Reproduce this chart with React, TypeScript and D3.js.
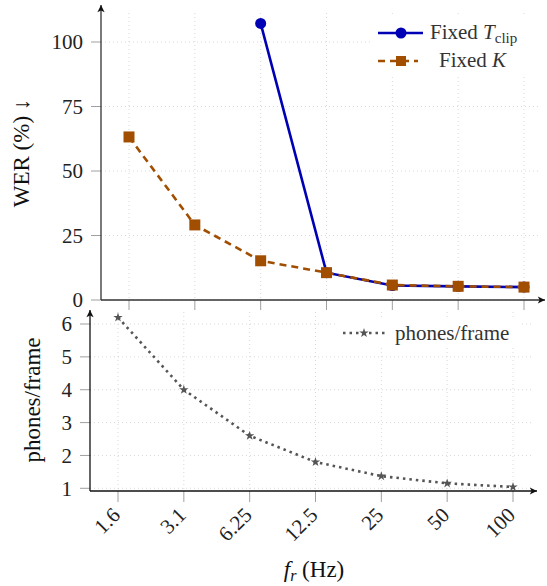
import React, { useEffect, useRef } from "react";
import * as d3 from "d3";

// sampling rates (Hz)
const rates = ["1.6", "3.1", "6.25", "12.5", "25", "50", "100"];
// WER (%) with fixed T_clip (null = not run)
const werFixedTclip = [null, null, 107.2, 10.6, 5.6, 5.3, 5.0];
// WER (%) with fixed K
const werFixedK = [63.2, 29.1, 15.2, 10.6, 5.8, 5.3, 5.0];
// phones per frame
const phonesPerFrame = [6.2, 4.0, 2.6, 1.8, 1.37, 1.15, 1.04];

const werTicks = [0, 25, 50, 75, 100];
const ppfTicks = [1, 2, 3, 4, 5, 6];

const FONT = "'Liberation Serif', 'DejaVu Serif', serif";
const BLUE = "#0000b4";
const ORANGE = "#a24e00";
const GRAY = "#555555";

export default function App() {
  const ref = useRef<SVGSVGElement>(null);

  useEffect(() => {
    const svg = d3.select(ref.current);
    svg.selectAll("*").remove();

    const defs = svg.append("defs");
    defs.append("marker")
      .attr("id", "arr")
      .attr("viewBox", "0 0 10 10")
      .attr("refX", 9).attr("refY", 5)
      .attr("markerWidth", 9).attr("markerHeight", 9)
      .attr("markerUnits", "userSpaceOnUse")
      .attr("orient", "auto")
      .append("path")
      .attr("d", "M1,1 L9,5 L1,9 L3,5 Z")
      .attr("fill", "#111");

    // ---------- top panel ----------
    const topX = d3.scalePoint().domain(rates).range([129, 524]);
    const topY = d3.scaleLinear().domain([0, 100]).range([300, 42]);
    const top = svg.append("g");
    const tLeft = 101, tRight = 545, tTop = 5, tBottom = 300;

    // grid
    top.selectAll(".vg").data(rates).join("line")
      .attr("x1", d => topX(d)!).attr("x2", d => topX(d)!)
      .attr("y1", tTop + 8).attr("y2", tBottom)
      .attr("stroke", "#cfcfcf").attr("stroke-width", 0.8).attr("stroke-dasharray", "1 3");
    top.selectAll(".hg").data(werTicks).join("line")
      .attr("x1", tLeft).attr("x2", tRight - 4)
      .attr("y1", d => topY(d)).attr("y2", d => topY(d))
      .attr("stroke", "#cfcfcf").attr("stroke-width", 0.8).attr("stroke-dasharray", "1 3");

    // ticks
    top.selectAll(".yt").data(werTicks).join("line")
      .attr("x1", tLeft - 10).attr("x2", tLeft)
      .attr("y1", d => topY(d)).attr("y2", d => topY(d))
      .attr("stroke", "#888").attr("stroke-width", 0.8);
    top.selectAll(".ytl").data(werTicks).join("text")
      .attr("x", tLeft - 18).attr("y", d => topY(d))
      .attr("dy", "0.35em").attr("text-anchor", "end")
      .attr("font-family", FONT).attr("font-size", 21).attr("fill", "#222")
      .text(d => d);
    top.selectAll(".xt").data(rates).join("line")
      .attr("x1", d => topX(d)!).attr("x2", d => topX(d)!)
      .attr("y1", tBottom).attr("y2", tBottom + 10)
      .attr("stroke", "#888").attr("stroke-width", 0.8);

    // axes
    top.append("line").attr("x1", tLeft).attr("x2", tLeft).attr("y1", tBottom).attr("y2", tTop)
      .attr("stroke", "#333").attr("stroke-width", 1.3).attr("marker-end", "url(#arr)");
    top.append("line").attr("x1", tLeft).attr("x2", tRight).attr("y1", tBottom).attr("y2", tBottom)
      .attr("stroke", "#333").attr("stroke-width", 1.3).attr("marker-end", "url(#arr)");

    const werLine = d3.line<number | null>()
      .defined(d => d !== null)
      .x((_, i) => topX(rates[i])!)
      .y(d => topY(d as number));

    top.append("path").attr("d", werLine(werFixedTclip))
      .attr("fill", "none").attr("stroke", BLUE).attr("stroke-width", 2.6);
    top.selectAll(".c").data(werFixedTclip.map((v, i) => ({ v, i })).filter(d => d.v !== null)).join("circle")
      .attr("cx", d => topX(rates[d.i])!).attr("cy", d => topY(d.v as number))
      .attr("r", 5.5).attr("fill", BLUE);

    top.append("path").attr("d", werLine(werFixedK))
      .attr("fill", "none").attr("stroke", ORANGE).attr("stroke-width", 2.6)
      .attr("stroke-dasharray", "7 5");
    top.selectAll(".s").data(werFixedK).join("rect")
      .attr("x", (_, i) => topX(rates[i])! - 5.5).attr("y", d => topY(d) - 5.5)
      .attr("width", 11).attr("height", 11).attr("fill", ORANGE);

    // y label
    top.append("text")
      .attr("transform", "translate(29,153) rotate(-90)")
      .attr("text-anchor", "middle")
      .attr("font-family", FONT).attr("font-size", 23).attr("fill", "#111")
      .text("WER (%) \u2193");

    // legend
    const lg = top.append("g");
    lg.append("rect").attr("x", 370).attr("y", 14).attr("width", 170).attr("height", 62).attr("fill", "white");
    lg.append("line").attr("x1", 378).attr("x2", 423).attr("y1", 33).attr("y2", 33)
      .attr("stroke", BLUE).attr("stroke-width", 2.6);
    lg.append("circle").attr("cx", 401).attr("cy", 33).attr("r", 5.5).attr("fill", BLUE);
    const t1 = lg.append("text").attr("x", 430).attr("y", 39)
      .attr("font-family", FONT).attr("font-size", 21).attr("fill", "#333");
    t1.append("tspan").text("Fixed ");
    t1.append("tspan").attr("font-style", "italic").text("T");
    t1.append("tspan").attr("font-size", 15).attr("dy", 4).text("clip");

    lg.append("line").attr("x1", 378).attr("x2", 418).attr("y1", 61).attr("y2", 61)
      .attr("stroke", ORANGE).attr("stroke-width", 2.6).attr("stroke-dasharray", "7 5");
    lg.append("rect").attr("x", 396).attr("y", 56).attr("width", 10).attr("height", 10).attr("fill", ORANGE);
    const t2 = lg.append("text").attr("x", 439).attr("y", 67)
      .attr("font-family", FONT).attr("font-size", 21).attr("fill", "#333");
    t2.append("tspan").text("Fixed ");
    t2.append("tspan").attr("font-style", "italic").text("K");

    // ---------- bottom panel ----------
    const botX = d3.scalePoint().domain(rates).range([118, 513]);
    const botY = d3.scaleLinear().domain([1, 6]).range([488.3, 324]);
    const bot = svg.append("g");
    const bLeft = 90, bRight = 537, bTop = 310, bBottom = 491;

    bot.selectAll(".vg").data(rates).join("line")
      .attr("x1", d => botX(d)!).attr("x2", d => botX(d)!)
      .attr("y1", bTop + 2).attr("y2", bBottom)
      .attr("stroke", "#cfcfcf").attr("stroke-width", 0.8).attr("stroke-dasharray", "1 3");
    bot.selectAll(".hg").data(ppfTicks).join("line")
      .attr("x1", bLeft).attr("x2", bRight - 4)
      .attr("y1", d => botY(d)).attr("y2", d => botY(d))
      .attr("stroke", "#cfcfcf").attr("stroke-width", 0.8).attr("stroke-dasharray", "1 3");

    bot.selectAll(".yt").data(ppfTicks).join("line")
      .attr("x1", bLeft - 10).attr("x2", bLeft)
      .attr("y1", d => botY(d)).attr("y2", d => botY(d))
      .attr("stroke", "#888").attr("stroke-width", 0.8);
    bot.selectAll(".ytl").data(ppfTicks).join("text")
      .attr("x", bLeft - 18).attr("y", d => botY(d))
      .attr("dy", "0.35em").attr("text-anchor", "end")
      .attr("font-family", FONT).attr("font-size", 21).attr("fill", "#222")
      .text(d => d);
    bot.selectAll(".xt").data(rates).join("line")
      .attr("x1", d => botX(d)!).attr("x2", d => botX(d)!)
      .attr("y1", bBottom).attr("y2", bBottom + 11)
      .attr("stroke", "#888").attr("stroke-width", 0.8);
    bot.selectAll(".xtl").data(rates).join("text")
      .attr("transform", d => `translate(${botX(d)! - 7},${bBottom + 15}) rotate(-45)`)
      .attr("dy", "0.7em").attr("text-anchor", "end")
      .attr("font-family", FONT).attr("font-size", 21).attr("fill", "#222")
      .text(d => d);

    bot.append("line").attr("x1", bLeft).attr("x2", bLeft).attr("y1", bBottom).attr("y2", bTop)
      .attr("stroke", "#111").attr("stroke-width", 1.3).attr("marker-end", "url(#arr)");
    bot.append("line").attr("x1", bLeft).attr("x2", bRight).attr("y1", bBottom).attr("y2", bBottom)
      .attr("stroke", "#111").attr("stroke-width", 1.3).attr("marker-end", "url(#arr)");

    const ppfLine = d3.line<number>()
      .x((_, i) => botX(rates[i])!)
      .y(d => botY(d));
    bot.append("path").attr("d", ppfLine(phonesPerFrame))
      .attr("fill", "none").attr("stroke", GRAY).attr("stroke-width", 2.6)
      .attr("stroke-dasharray", "2.5 4");
    const star = d3.symbol().type(d3.symbolStar).size(28);
    bot.selectAll(".st").data(phonesPerFrame).join("path")
      .attr("transform", (d, i) => `translate(${botX(rates[i])},${botY(d)})`)
      .attr("d", star()).attr("fill", GRAY);

    bot.append("text")
      .attr("transform", "translate(40,400) rotate(-90)")
      .attr("text-anchor", "middle")
      .attr("font-family", FONT).attr("font-size", 23).attr("fill", "#111")
      .text("phones/frame");

    // legend
    bot.append("rect").attr("x", 336).attr("y", 318).attr("width", 185).attr("height", 30).attr("fill", "white");
    bot.append("line").attr("x1", 343).attr("x2", 386).attr("y1", 333).attr("y2", 333)
      .attr("stroke", GRAY).attr("stroke-width", 2.6).attr("stroke-dasharray", "2.5 4");
    bot.append("path").attr("transform", "translate(364,333)").attr("d", star()).attr("fill", GRAY);
    bot.append("text").attr("x", 395).attr("y", 340)
      .attr("font-family", FONT).attr("font-size", 21).attr("fill", "#333")
      .text("phones/frame");

    // x label
    const xl = svg.append("text").attr("x", 314).attr("y", 577).attr("text-anchor", "middle")
      .attr("font-family", FONT).attr("font-size", 23).attr("fill", "#111");
    xl.append("tspan").attr("font-style", "italic").text("f");
    xl.append("tspan").attr("font-style", "italic").attr("font-size", 16).attr("dy", 4).text("r");
    xl.append("tspan").attr("dy", -4).text(" (Hz)");
  }, []);

  return (
    <svg
      ref={ref}
      width={547}
      height={586}
      style={{ position: "absolute", left: 0, top: 0, background: "white" }}
    />
  );
}
